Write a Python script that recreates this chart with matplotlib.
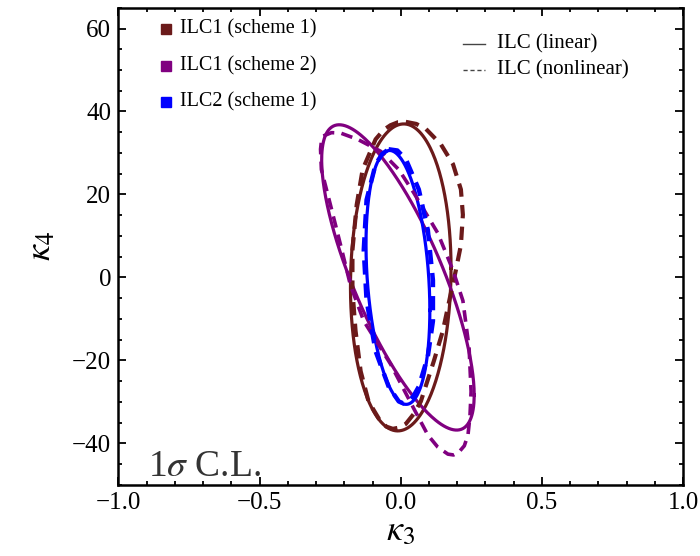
import numpy as np
import matplotlib
matplotlib.use("Agg")
import matplotlib.pyplot as plt
from matplotlib.ticker import MultipleLocator

plt.rcParams['font.family'] = ['Liberation Serif', 'DejaVu Serif']
plt.rcParams['mathtext.fontset'] = 'stix'

# colores
c_s1 = "#6b1a1a"
c_s2 = "#800080"
c_ilc2 = "#0000ff"

# CONTORNOS LINEALES (Fisher): centro, sigmas y correlación
lin_labels = ["ILC1 (scheme 1)", "ILC1 (scheme 2)", "ILC2 (scheme 1)"]
lin_cx = [0.0, -0.01, -0.01]
lin_cy = [0.0, 0.0, 0.0]
lin_sx = [0.178, 0.27, 0.113]
lin_sy = [37.0, 36.8, 30.6]
lin_rho = [0.06, -0.77, -0.26]

# CONTORNOS NO LINEALES
nl_s1_x = [0.018, 0.055, 0.089, 0.142, 0.185, 0.213, 0.220, 0.213, 0.195, 0.174, 0.149,
           0.117, 0.071, 0.045, 0.018, -0.005, -0.028, -0.050, -0.071, -0.114, -0.142,
           -0.160, -0.171, -0.171, -0.156, -0.135, -0.089, -0.060, -0.036, -0.010]
nl_s1_y = [37.5, 37.0, 35.8, 32.1, 27.3, 21.2, 15.1, 7.8, 1.7, -4.9, -12.9,
           -20.2, -29.9, -33.0, -35.3, -36.2, -36.5, -36.0, -34.8, -29.9, -22.6,
           -12.9, -3.2, 6.6, 17.5, 26.0, 33.3, 35.6, 36.7, 37.4]

nl_s2_x = [-0.274, -0.245, -0.213, -0.153, -0.071, -0.007, 0.046, 0.131, 0.185, 0.220,
           0.242, 0.249, 0.245, 0.238, 0.225, 0.206, 0.187, 0.167, 0.131, 0.096, 0.046,
           -0.036, -0.131, -0.178, -0.213, -0.249, -0.281, -0.284, -0.281]
nl_s2_y = [34.1, 34.9, 34.8, 33.3, 30.4, 26.0, 20.4, 10.7, 1.7, -5.6,
           -17.0, -27.5, -33.5, -38.0, -40.6, -42.1, -42.8, -42.6, -40.9, -38.0, -31.6,
           -20.9, -10.5, -1.9, 7.8, 17.5, 26.0, 30.9, 32.8]

nl_ilc2_x = [-0.043, -0.012, 0.018, 0.064, 0.096, 0.114, 0.114, 0.096, 0.064, 0.045, 0.028,
             0.010, -0.007, -0.043, -0.089, -0.121, -0.131, -0.121, -0.089, -0.065]
nl_ilc2_y = [30.9, 30.6, 28.5, 21.2, 11.4, -0.7, -10.5, -19.0, -26.3, -28.6, -29.9,
             -30.4, -29.9, -26.3, -17.8, -5.6, 6.6, 18.7, 27.3, 29.8]


def ellipse(cx, cy, sx, sy, rho, n=300):
    t = np.linspace(0, 2 * np.pi, n)
    x = cx + sx * np.cos(t)
    y = cy + sy * (rho * np.cos(t) + np.sqrt(1 - rho**2) * np.sin(t))
    return x, y


def closed(xs, ys):
    return list(xs) + [xs[0]], list(ys) + [ys[0]]


fig = plt.figure(figsize=(7, 5.56), dpi=100)
ax = fig.add_axes([0.169, 0.128, 0.807, 0.858])

colors = [c_s1, c_s2, c_ilc2]
for i in range(3):
    x, y = ellipse(lin_cx[i], lin_cy[i], lin_sx[i], lin_sy[i], lin_rho[i])
    ax.plot(x, y, color=colors[i], lw=2.3)

dash_w = [3.0, 2.6, 3.2]
nl_data = [(nl_s1_x, nl_s1_y), (nl_s2_x, nl_s2_y), (nl_ilc2_x, nl_ilc2_y)]
for i, (xs, ys) in enumerate(nl_data):
    x, y = closed(xs, ys)
    ax.plot(x, y, color=colors[i], lw=dash_w[i], ls=(0, (3.2, 2.0)), solid_joinstyle="round")

ax.set_xlim(-1, 1)
ax.set_ylim(-50, 65)
ax.xaxis.set_major_locator(MultipleLocator(0.5))
ax.xaxis.set_minor_locator(MultipleLocator(0.1))
ax.yaxis.set_major_locator(MultipleLocator(20))
ax.yaxis.set_minor_locator(MultipleLocator(5))
ax.tick_params(which="both", direction="in", top=True, right=True, width=1.3, labelsize=18)
ax.tick_params(which="major", length=6, pad=5)
ax.tick_params(which="minor", length=3)
for s in ax.spines.values():
    s.set_linewidth(1.8)

ax.set_xlabel(r"$\kappa_3$", fontsize=26, labelpad=1)
ax.set_ylabel(r"$\kappa_4$", fontsize=26, labelpad=10)

# leyenda de colores
for i, lab in enumerate(lin_labels):
    ypos = [0.955, 0.878, 0.802][i]
    ax.plot([0.085], [ypos], marker="s", ms=7, color=colors[i], transform=ax.transAxes, clip_on=False)
    ax.text(0.11, ypos, lab, transform=ax.transAxes, fontsize=14.5, va="center", ha="left")

# leyenda de estilos
ax.plot([0.611, 0.650], [0.925, 0.925], color="#444444", lw=1.0, transform=ax.transAxes)
ax.plot([0.611, 0.650], [0.870, 0.870], color="#444444", lw=1.0, ls=(0, (3, 2)), transform=ax.transAxes)
ax.text(0.671, 0.925, "ILC (linear)", transform=ax.transAxes, fontsize=15, va="center")
ax.text(0.671, 0.870, "ILC (nonlinear)", transform=ax.transAxes, fontsize=15, va="center")

ax.text(0.053, 0.018, r"1$\sigma$ C.L.", transform=ax.transAxes, fontsize=27,
        color="#333333", va="baseline")

fig.savefig("out.png", dpi=100)
